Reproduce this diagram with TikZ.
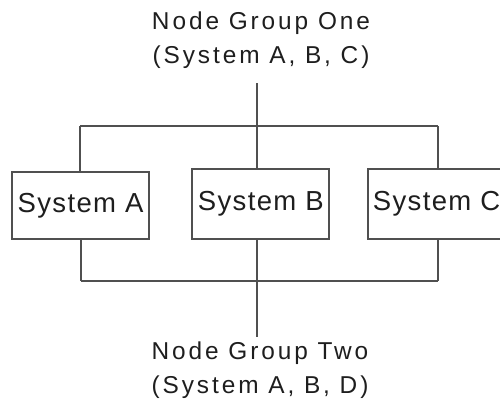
\documentclass[tikz,border=0pt]{standalone}
\usepackage{fontspec}
\setmainfont{Liberation Sans}
\newfontfamily\grpfont[LetterSpace=12]{Liberation Sans}
\newfontfamily\boxfont[LetterSpace=5]{Liberation Sans}
\definecolor{linecol}{HTML}{505050}
\definecolor{textcol}{HTML}{1E1E1E}
\begin{document}
\begin{tikzpicture}[x=1pt,y=-1pt,
  conn/.style={draw=linecol,line width=2pt},
  sysbox/.style={draw=linecol,line width=2pt,fill=white,minimum width=137pt,
     minimum height=68pt,inner sep=0pt,font=\boxfont\fontsize{27.5}{30}\selectfont,text=textcol},
  grouplabel/.style={align=center,inner sep=0pt,text=textcol,
     font=\grpfont\fontsize{24.4}{34}\selectfont}]
\useasboundingbox[fill=white] (0,0) rectangle (500,402);
% boxes
\node[sysbox,minimum height=67.5pt] (a) at (80.5,205.3) {System A};
\node[sysbox,minimum height=70pt] (b) at (260.8,204) {System B};
\node[sysbox,minimum height=70pt] (c) at (436.5,204) {System C};
% labels
\node[grouplabel,anchor=base] (g1) at (261,63) {Node Group One\\(System A, B, C)};
\node[grouplabel,anchor=base] (g2) at (260,393) {Node Group Two\\(System A, B, D)};
% top bus
\coordinate (t0) at (257,83);
\coordinate (tb) at (257,126);
\coordinate (tl) at (80,126);
\coordinate (tr) at (438,126);
\draw[conn] (t0) -- (tb);
\draw[conn] (tb) -- (257,169);
\draw[conn] (tl) -- (80,171.5);
\draw[conn] (tr) -- (438,169);
\draw[conn] (tl) -- (tr);
% bottom bus
\coordinate (bb) at (257,281);
\coordinate (bl) at (81,281);
\coordinate (br) at (438,281);
\coordinate (b0) at (257,337);
\draw[conn] (81,239) -- (bl);
\draw[conn] (257,239) -- (bb);
\draw[conn] (438,239) -- (br);
\draw[conn] (bl) -- (br);
\draw[conn] (bb) -- (b0);
\end{tikzpicture}
\end{document}
